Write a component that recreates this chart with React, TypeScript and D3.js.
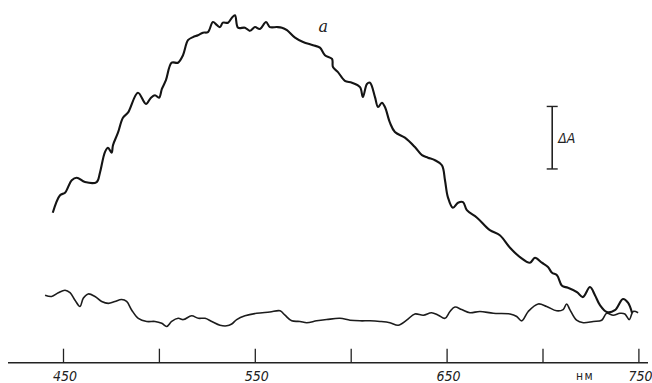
import React from "react";
import * as d3 from "d3";

// wavelength, nm
const curveANm = [444.4, 448.2, 450.8, 454.3, 456.9, 461.2, 467.3, 469.0, 471.6, 473.2, 475.1, 475.8, 478.4, 481.0, 483.6, 488.8, 493.0, 495.6, 497.7, 499.8, 501.3, 503.4, 506.4, 509.7, 512.3, 514.9, 517.5, 520.1, 522.7, 525.3, 527.9, 530.0, 531.6, 533.1, 535.8, 537.8, 539.4, 541.0, 544.6, 547.2, 549.8, 552.4, 555.6, 557.6, 561.3, 563.9, 566.5, 570.7, 574.9, 580.1, 583.7, 586.3, 590.0, 590.5, 593.1, 596.7, 600.4, 604.6, 606.1, 608.2, 609.8, 612.4, 614.0, 616.0, 617.6, 620.2, 622.8, 628.0, 633.2, 636.9, 640.0, 643.7, 647.3, 648.9, 650.4, 653.0, 655.7, 658.3, 660.3, 665.6, 672.3, 677.5, 682.8, 688.0, 693.2, 695.8, 699.4, 702.6, 704.7, 707.3, 709.9, 713.0, 717.7, 720.8, 724.5, 727.1, 729.7, 733.3, 737.5, 741.7, 744.3, 746.4];
// absorbance (relative)
const curveAAbs = [0.0240, 0.0268, 0.0272, 0.0292, 0.0296, 0.0289, 0.0289, 0.0304, 0.0337, 0.0344, 0.0336, 0.0348, 0.0368, 0.0392, 0.0400, 0.0432, 0.0414, 0.0424, 0.0428, 0.0424, 0.0438, 0.0452, 0.0480, 0.0480, 0.0492, 0.0516, 0.0521, 0.0524, 0.0528, 0.0529, 0.0545, 0.0540, 0.0537, 0.0544, 0.0544, 0.0552, 0.0556, 0.0536, 0.0536, 0.0531, 0.0537, 0.0534, 0.0545, 0.0537, 0.0537, 0.0536, 0.0532, 0.0520, 0.0513, 0.0508, 0.0504, 0.0492, 0.0486, 0.0473, 0.0465, 0.0451, 0.0448, 0.0441, 0.0425, 0.0446, 0.0448, 0.0425, 0.0409, 0.0416, 0.0409, 0.0384, 0.0369, 0.0360, 0.0345, 0.0332, 0.0328, 0.0324, 0.0316, 0.0292, 0.0265, 0.0248, 0.0256, 0.0257, 0.0244, 0.0232, 0.0212, 0.0204, 0.0184, 0.0169, 0.0160, 0.0168, 0.0160, 0.0153, 0.0144, 0.0140, 0.0123, 0.0120, 0.0113, 0.0105, 0.0121, 0.0108, 0.0092, 0.0081, 0.0084, 0.0102, 0.0096, 0.0080];

const baseNm = [440.4, 443.8, 447.3, 450.8, 453.4, 456.0, 458.6, 460.3, 462.9, 466.4, 469.9, 473.4, 476.8, 480.3, 482.9, 485.6, 489.0, 493.4, 497.7, 501.2, 503.8, 506.4, 509.8, 512.5, 516.8, 520.3, 523.8, 527.3, 531.6, 535.1, 537.7, 540.3, 544.6, 550.7, 557.6, 562.9, 565.5, 569.0, 573.3, 576.8, 582.0, 587.2, 594.1, 599.4, 604.6, 609.8, 615.0, 620.2, 624.5, 628.9, 633.2, 637.6, 641.9, 645.4, 648.9, 651.5, 654.1, 657.6, 661.9, 667.1, 674.1, 682.8, 686.3, 688.9, 692.3, 697.5, 701.9, 707.1, 710.5, 712.3, 714.0, 717.5, 721.0, 726.2, 730.6, 733.2, 736.6, 740.1, 742.7, 745.0, 747.0, 749.6];
const baseAbs = [0.0108, 0.0106, 0.0112, 0.0116, 0.0112, 0.0100, 0.0090, 0.0103, 0.0110, 0.0106, 0.0098, 0.0095, 0.0098, 0.0101, 0.0098, 0.0084, 0.0071, 0.0066, 0.0066, 0.0063, 0.0058, 0.0066, 0.0071, 0.0069, 0.0075, 0.0071, 0.0071, 0.0066, 0.0060, 0.0059, 0.0062, 0.0069, 0.0075, 0.0079, 0.0081, 0.0083, 0.0076, 0.0067, 0.0066, 0.0064, 0.0067, 0.0069, 0.0071, 0.0068, 0.0067, 0.0067, 0.0066, 0.0064, 0.0060, 0.0068, 0.0078, 0.0076, 0.0080, 0.0076, 0.0071, 0.0082, 0.0089, 0.0085, 0.0080, 0.0082, 0.0079, 0.0078, 0.0074, 0.0067, 0.0082, 0.0094, 0.0090, 0.0083, 0.0085, 0.0094, 0.0085, 0.0068, 0.0064, 0.0066, 0.0068, 0.0079, 0.0076, 0.0079, 0.0078, 0.0069, 0.0082, 0.0080];

const xTicks = [450, 500, 550, 600, 650, 700, 750];
const xTickLabels = [450, 550, 650, 750];
const unitLabel = "нм";
const curveLabel = "а";

// ΔA scale bar: wavelength position, lower end, length
const barNm = 704.8;
const barFrom = 0.031;
const barSize = 0.01;

const W = 652;
const H = 383;

export default function App() {
  const x = d3.scaleLinear().domain([450, 750]).range([63.5, 638.9]);
  const y = d3.scaleLinear().domain([0, 0.056]).range([362.7, 12.7]);
  const axisY = y(0);

  const line = d3
    .line<[number, number]>()
    .x((d) => x(d[0]))
    .y((d) => y(d[1]))
    .curve(d3.curveCatmullRom.alpha(0.5));

  const pathA = line(curveANm.map((v, i) => [v, curveAAbs[i]]) as [number, number][]) || "";
  const pathBase = line(baseNm.map((v, i) => [v, baseAbs[i]]) as [number, number][]) || "";

  const bx = x(barNm);
  const by0 = y(barFrom);
  const by1 = y(barFrom + barSize);
  const labelFont = "'DejaVu Sans Condensed', 'DejaVu Sans', sans-serif";

  return (
    <svg width={W} height={H} style={{ position: "absolute", left: 0, top: 0, background: "#fff" }}>
      <path d={pathBase} fill="none" stroke="#1c1c1c" strokeWidth={1.6} strokeLinejoin="round" />
      <path d={pathA} fill="none" stroke="#141414" strokeWidth={2.1} strokeLinejoin="round" />

      {/* axis */}
      <line x1={8} x2={648} y1={axisY} y2={axisY} stroke="#222" strokeWidth={1.4} />
      {xTicks.map((t) => (
        <line key={t} x1={x(t)} x2={x(t)} y1={axisY} y2={axisY - 14} stroke="#222" strokeWidth={1.3} />
      ))}
      {xTickLabels.map((t) => (
        <text
          key={t}
          x={x(t) + 1.5}
          y={381}
          textAnchor="middle"
          fontSize={14}
          fontStyle="italic"
          fontStretch="condensed"
          fontFamily={labelFont}
          fill="#222"
        >
          {t}
        </text>
      ))}
      <text x={585} y={380} textAnchor="middle" fontSize={12} fontFamily={labelFont} letterSpacing={1.5} fill="#222">
        {unitLabel}
      </text>

      {/* scale bar */}
      <line x1={bx} x2={bx} y1={by0} y2={by1} stroke="#222" strokeWidth={1.6} />
      <line x1={bx - 5.5} x2={bx + 5.5} y1={by0} y2={by0} stroke="#222" strokeWidth={1.4} />
      <line x1={bx - 5.5} x2={bx + 5.5} y1={by1} y2={by1} stroke="#222" strokeWidth={1.4} />
      <text x={bx + 6} y={(by0 + by1) / 2 + 5} fontSize={14} fontStyle="italic" fontFamily={labelFont} fill="#222">
        ΔA
      </text>

      <text x={x(585.4)} y={y(0.0535) + 4} textAnchor="middle" fontSize={16} fontStyle="italic" fontFamily="'DejaVu Serif', serif" fill="#222">
        {curveLabel}
      </text>
    </svg>
  );
}
